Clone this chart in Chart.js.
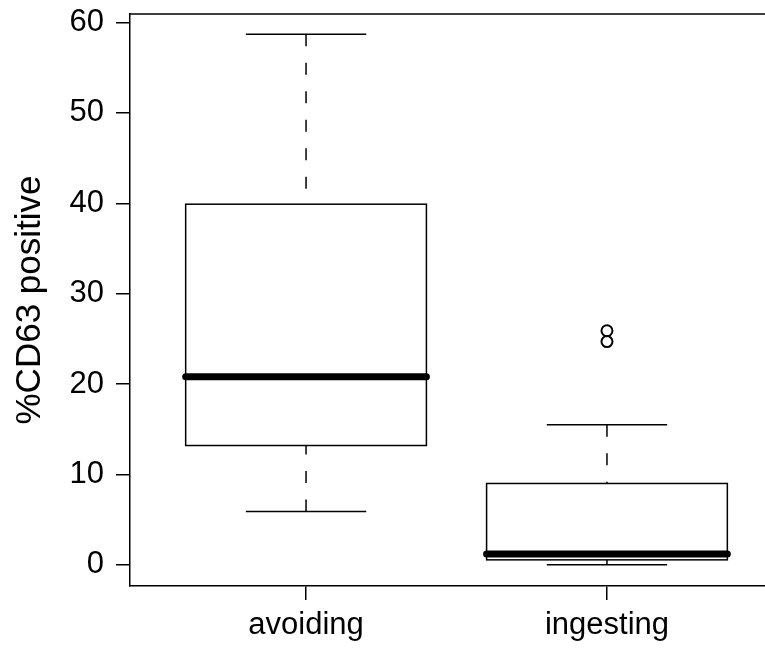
<!DOCTYPE html>
<html>
<head>
<meta charset="utf-8">
<script src="https://cdn.jsdelivr.net/npm/chart.js@4.4.0/dist/chart.umd.min.js"></script>
<style>
  html, body { margin: 0; padding: 0; background: #fff; overflow: hidden; }
  #wrap { width: 765px; height: 648px; overflow: hidden; }
</style>
</head>
<body>
<div id="wrap"><canvas id="myChart" width="800" height="648"></canvas></div>
<script>
// boxplot stats, one entry per group
const categories = ['avoiding', 'ingesting'];
const whiskerLow = [5.9, 0.0];
const q1 = [13.2, 0.55];
const median = [20.8, 1.2];
const q3 = [39.9, 9.0];
const whiskerHigh = [58.7, 15.5];
// outliers: group number (1-based) and value
const outlierGroup = [2, 2];
const outlierValues = [25.9, 24.7];
const yTicks = [0, 10, 20, 30, 40, 50, 60];

const BOX_HALF = 0.4;
const STAPLE_HALF = 0.2;
const FONT = "'Liberation Sans', Arial, sans-serif";

// draws boxes, whiskers, medians and the plot frame
const boxplotPlugin = {
  id: 'boxplot',
  beforeDatasetsDraw(chart) {
    const ctx = chart.ctx;
    const xs = chart.scales.x;
    const ys = chart.scales.y;
    const area = chart.chartArea;
    ctx.save();
    ctx.strokeStyle = '#000';

    // frame top / right
    ctx.lineWidth = 1.5;
    ctx.beginPath();
    ctx.moveTo(area.left, area.top);
    ctx.lineTo(area.right, area.top);
    ctx.lineTo(area.right, area.bottom);
    ctx.stroke();

    categories.forEach((c, i) => {
      const cx = xs.getPixelForValue(i + 1);
      const bl = xs.getPixelForValue(i + 1 - BOX_HALF);
      const br = xs.getPixelForValue(i + 1 + BOX_HALF);
      const sl = xs.getPixelForValue(i + 1 - STAPLE_HALF);
      const sr = xs.getPixelForValue(i + 1 + STAPLE_HALF);
      const yLo = ys.getPixelForValue(whiskerLow[i]);
      const yQ1 = ys.getPixelForValue(q1[i]);
      const yMed = ys.getPixelForValue(median[i]);
      const yQ3 = ys.getPixelForValue(q3[i]);
      const yHi = ys.getPixelForValue(whiskerHigh[i]);

      // whiskers (dashed), drawn from the whisker end toward the box
      ctx.lineWidth = 1.5;
      ctx.setLineDash([12, 16.5]);
      ctx.beginPath();
      ctx.moveTo(cx, yHi); ctx.lineTo(cx, yQ3);
      ctx.moveTo(cx, yLo); ctx.lineTo(cx, yQ1);
      ctx.stroke();
      ctx.setLineDash([]);

      // staples
      ctx.beginPath();
      ctx.moveTo(sl, yHi); ctx.lineTo(sr, yHi);
      ctx.moveTo(sl, yLo); ctx.lineTo(sr, yLo);
      ctx.stroke();

      // box
      ctx.fillStyle = '#fff';
      ctx.fillRect(bl, yQ3, br - bl, yQ1 - yQ3);
      ctx.strokeRect(bl, yQ3, br - bl, yQ1 - yQ3);

      // median
      ctx.lineWidth = 7;
      ctx.lineCap = 'round';
      ctx.beginPath();
      ctx.moveTo(bl, yMed); ctx.lineTo(br, yMed);
      ctx.stroke();
      ctx.lineCap = 'butt';
    });
    ctx.restore();
  }
};

new Chart(document.getElementById('myChart'), {
  type: 'scatter',
  data: {
    datasets: [{
      data: outlierValues.map((v, i) => ({ x: outlierGroup[i], y: v })),
      pointStyle: 'circle',
      pointRadius: 5.5,
      borderWidth: 2,
      borderColor: '#000',
      backgroundColor: 'rgba(0,0,0,0)'
    }]
  },
  options: {
    responsive: false,
    animation: false,
    layout: { padding: { top: 14, right: 20, left: 0, bottom: 0 } },
    plugins: { legend: { display: false }, tooltip: { enabled: false } },
    scales: {
      x: {
        type: 'linear',
        min: 0.415,
        max: 2.575,
        afterBuildTicks: (scale) => { scale.ticks = categories.map((c, i) => ({ value: i + 1 })); },
        afterFit: (scale) => { scale.height = 62; scale.paddingLeft = 0; scale.paddingRight = 0; },
        ticks: {
          callback: (v) => categories[v - 1],
          color: '#000',
          font: { family: FONT, size: 31 },
          padding: 7,
          maxRotation: 0,
          autoSkip: false
        },
        grid: { drawOnChartArea: false, tickLength: 14, color: '#000', lineWidth: 1.5 },
        border: { display: true, color: '#000', width: 1.5 }
      },
      y: {
        min: -2.344,
        max: 60.944,
        afterBuildTicks: (scale) => { scale.ticks = yTicks.map(v => ({ value: v })); },
        afterFit: (scale) => { scale.width = 130; scale.paddingTop = 0; scale.paddingBottom = 0; },
        ticks: {
          color: '#000',
          font: { family: FONT, size: 31 },
          padding: 12
        },
        title: {
          display: true,
          text: '%CD63 positive',
          color: '#000',
          font: { family: FONT, size: 35 },
          padding: { top: 9, bottom: 0 }
        },
        grid: { drawOnChartArea: false, tickLength: 14, color: '#000', lineWidth: 1.5 },
        border: { display: true, color: '#000', width: 1.5 }
      }
    }
  },
  plugins: [boxplotPlugin]
});
</script>
</body>
</html>
